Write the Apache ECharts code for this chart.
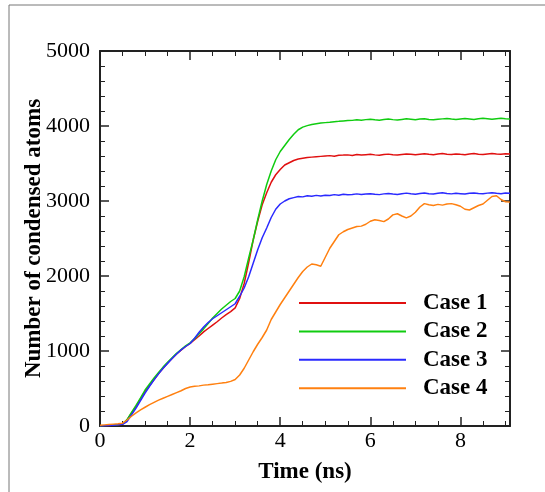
<!DOCTYPE html>
<html>
<head>
<meta charset="utf-8">
<script src="https://cdn.jsdelivr.net/npm/echarts@6/dist/echarts.min.js"></script>
<style>
html, body { margin: 0; padding: 0; background: #fff; }
#chart { width: 545px; height: 492px; }
</style>
</head>
<body>
<div id="chart"></div>
<script>
// time in ns
var time = [0, 0.1, 0.2, 0.3, 0.4, 0.5, 0.6, 0.7, 0.8, 0.9,
    1.0, 1.1, 1.2, 1.3, 1.4, 1.5, 1.6, 1.7, 1.8, 1.9,
    2.0, 2.1, 2.2, 2.3, 2.4, 2.5, 2.6, 2.7, 2.8, 2.9,
    3.0, 3.1, 3.2, 3.3, 3.4, 3.5, 3.6, 3.7, 3.8, 3.9,
    4.0, 4.1, 4.2, 4.3, 4.4, 4.5, 4.6, 4.7, 4.8, 4.9,
    5.0, 5.1, 5.2, 5.3, 5.4, 5.5, 5.6, 5.7, 5.8, 5.9,
    6.0, 6.1, 6.2, 6.3, 6.4, 6.5, 6.6, 6.7, 6.8, 6.9,
    7.0, 7.1, 7.2, 7.3, 7.4, 7.5, 7.6, 7.7, 7.8, 7.9,
    8.0, 8.1, 8.2, 8.3, 8.4, 8.5, 8.6, 8.7, 8.8, 8.9,
    9.0, 9.1];

var case1 = [0, 5, 8, 12, 18, 25,
    80, 170, 260, 360, 460,
    540, 620, 700, 770, 840, 900, 960, 1010, 1060, 1100,
    1150, 1200, 1255, 1300, 1345, 1390, 1440, 1485, 1525, 1575,
    1700, 1900, 2180, 2480, 2730, 2950, 3110, 3250, 3350, 3420,
    3480, 3510, 3540, 3560, 3570, 3580, 3585, 3590, 3595, 3600,
    3605, 3598, 3610, 3612, 3615, 3608, 3620, 3612, 3618, 3622,
    3615, 3610, 3620, 3625, 3618, 3612, 3620, 3628, 3622, 3616,
    3624, 3630, 3622, 3618, 3626, 3632, 3624, 3620, 3628, 3622,
    3618, 3626, 3632, 3624, 3620, 3628, 3634, 3626, 3622, 3630, 3628];

var case2 = [0, 5, 9, 13, 19, 27,
    85, 180, 275, 375, 480,
    560, 640, 715, 785, 850, 910, 970, 1020, 1070, 1110,
    1165, 1230, 1295, 1365, 1440, 1500, 1560, 1610, 1660, 1700,
    1800, 1990, 2240, 2480, 2750, 3000, 3220, 3400, 3550, 3660,
    3740, 3820, 3890, 3950, 3985, 4005, 4020, 4030, 4040, 4045,
    4050, 4058, 4062, 4068, 4072, 4075, 4082, 4078, 4085, 4090,
    4082, 4078, 4086, 4092, 4085, 4080, 4088, 4096, 4090, 4084,
    4092, 4098, 4088, 4082, 4090, 4095, 4100, 4092, 4086, 4094,
    4100, 4094, 4088, 4096, 4102, 4096, 4090, 4098, 4104, 4098, 4094];

var case3 = [0, 4, 7, 11, 16, 22,
    60, 150, 240, 340, 440,
    530, 615, 695, 770, 835, 900, 960, 1015, 1060, 1100,
    1170, 1250, 1320, 1380, 1430, 1470, 1510, 1550, 1590, 1630,
    1730, 1840, 1990, 2170, 2350, 2510, 2640, 2780, 2890, 2960,
    3000, 3030, 3045, 3060, 3055, 3070, 3062, 3075, 3068, 3078,
    3072, 3085, 3078, 3090, 3082, 3088, 3095, 3086, 3092, 3098,
    3090, 3085, 3095, 3100, 3092, 3088, 3098, 3105, 3096, 3090,
    3100, 3108, 3098, 3094, 3102, 3110, 3100, 3095, 3104, 3098,
    3092, 3102, 3108, 3100, 3096, 3105, 3110, 3102, 3098, 3106, 3104];

var case4 = [10, 15, 20, 25, 30, 38,
    80, 130, 175, 215, 250,
    285, 315, 345, 370, 395, 420, 445, 470, 500, 520,
    530, 535, 545, 550, 558, 565, 572, 580, 595, 620,
    680, 770, 880, 990, 1090, 1180, 1280, 1420, 1520, 1620,
    1710, 1800, 1890, 1980, 2060, 2120, 2160, 2150, 2130, 2250,
    2370, 2460, 2550, 2590, 2620, 2640, 2660, 2665, 2690, 2730,
    2750, 2740, 2725, 2760, 2815, 2830, 2800, 2775, 2800, 2850,
    2920, 2965, 2950, 2940, 2955, 2945, 2960, 2965, 2950, 2930,
    2890, 2880, 2910, 2940, 2960, 3010, 3060, 3070, 3020, 2990, 2985];

var names = ['Case 1', 'Case 2', 'Case 3', 'Case 4'];
var colors = ['#e01010', '#10cc10', '#2a2aff', '#ff8010'];
var values = [case1, case2, case3, case4];

var font = 'Liberation Serif';
var axisColor = '#222';

function pairs(v) {
    return time.map(function (t, i) { return [t, v[i]]; });
}

var chart = echarts.init(document.getElementById('chart'), null, {renderer: 'canvas'});

var xBase = {
    type: 'value', min: 0, max: 9.1, interval: 2,
    axisLine: {show: true, onZero: false, lineStyle: {color: axisColor, width: 2}},
    axisTick: {show: true, inside: true, length: 9, lineStyle: {color: axisColor, width: 1.5}},
    minorTick: {show: true, splitNumber: 4, length: 5, lineStyle: {color: axisColor, width: 1}},
    splitLine: {show: false}
};
var yBase = {
    type: 'value', min: 0, max: 5000, interval: 1000,
    axisLine: {show: true, onZero: false, lineStyle: {color: axisColor, width: 2}},
    axisTick: {show: true, inside: true, length: 9, lineStyle: {color: axisColor, width: 1.5}},
    minorTick: {show: true, splitNumber: 5, length: 5, lineStyle: {color: axisColor, width: 1}},
    splitLine: {show: false}
};

var option = {
    animation: false,
    backgroundColor: '#fff',
    color: colors,
    grid: {left: 100, right: 35, top: 51, bottom: 66},
    xAxis: [
        Object.assign({}, xBase, {
            position: 'bottom',
            name: 'Time (ns)', nameLocation: 'middle', nameGap: 35,
            nameTextStyle: {fontFamily: font, fontSize: 23, fontWeight: 'bold', color: '#000'},
            axisLabel: {show: true, margin: 4, fontFamily: font, fontSize: 22, color: '#000', showMaxLabel: false}
        }),
        Object.assign({}, xBase, {position: 'top', axisLabel: {show: false}})
    ],
    yAxis: [
        Object.assign({}, yBase, {
            position: 'left',
            name: 'Number of condensed atoms', nameLocation: 'middle', nameGap: 54, nameRotate: 90,
            nameMoveOverlap: false,
            nameTextStyle: {fontFamily: font, fontSize: 23, fontWeight: 'bold', color: '#000'},
            axisLabel: {show: true, margin: 10, fontFamily: font, fontSize: 22, color: '#000',
                formatter: function (v) { return String(v); }}
        }),
        Object.assign({}, yBase, {position: 'right', axisLabel: {show: false}})
    ],
    legend: {
        orient: 'vertical',
        left: 293, top: 286,
        itemWidth: 107, itemHeight: 14, itemGap: 4.4,
        data: names,
        itemStyle: {opacity: 0},
        textStyle: {fontFamily: font, fontSize: 23, fontWeight: 'bold', color: '#000', lineHeight: 24, padding: [0, 0, 0, 12]}
    },
    graphic: [
        {type: 'line', shape: {x1: 9, y1: 5, x2: 545, y2: 5}, style: {stroke: '#777', lineWidth: 1}},
        {type: 'line', shape: {x1: 9, y1: 5, x2: 9, y2: 492}, style: {stroke: '#777', lineWidth: 1}}
    ],
    series: values.map(function (v, i) {
        return {
            name: names[i], type: 'line', data: pairs(v),
            symbol: 'none', smooth: false,
            lineStyle: {width: 1.5, color: colors[i]}
        };
    })
};

chart.setOption(option);
</script>
</body>
</html>
